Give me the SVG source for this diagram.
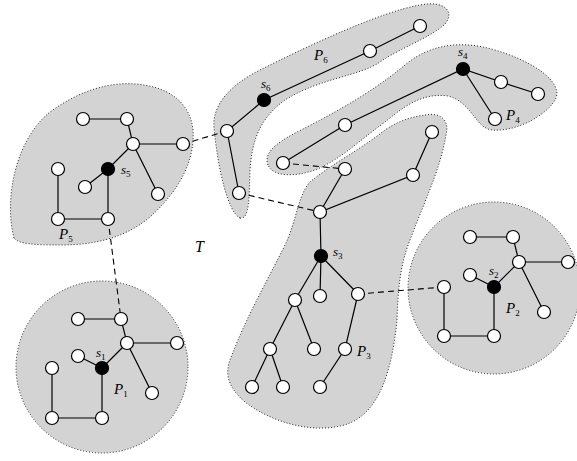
<svg xmlns="http://www.w3.org/2000/svg" width="577" height="461" viewBox="0 0 577 461">
<style>
.blob{fill:#d3d3d3;stroke:#222;stroke-width:1;stroke-dasharray:1 2}
.e{stroke:#000;stroke-width:1.2;fill:none}
.d{stroke:#000;stroke-width:1.1;fill:none;stroke-dasharray:6 4}
.v{fill:#fff;stroke:#000;stroke-width:1.2}
.s{fill:#000;stroke:#000;stroke-width:1.2}
text{font-family:"Liberation Serif","DejaVu Serif",serif;fill:#000}
.lab{font-style:italic;font-size:13px}
.big{font-style:italic;font-size:15px}
.sub{font-style:normal;font-size:9px}
</style>
<g id="regions">
<path id="P5-region" class="blob" d="M14,238 C4,200 15,140 50,112 C80,90 110,82 135,84 C165,86 190,100 193,130 C195,160 180,190 150,217 C125,238 95,245 60,245 C35,245 18,244 14,238 Z"/>
<circle id="P1-region" class="blob" cx="102" cy="367" r="86"/>
<circle id="P2-region" class="blob" cx="494" cy="288" r="86"/>
<path id="P6-region" class="blob" d="M240,218 C228,212 218,170 214,128 C212,105 230,85 260,70 C310,45 380,12 420,5 C445,0 455,12 445,24 C430,38 400,48 380,62 C360,76 320,78 285,100 C260,118 252,140 250,170 C249,195 250,220 240,218 Z"/>
<path id="P4-region" class="blob" d="M268,165 C262,150 285,138 305,128 C340,110 375,90 405,65 C425,48 455,38 495,50 C535,62 562,82 556,98 C550,112 520,132 492,130 C475,128 472,102 448,96 C420,92 400,110 385,122 C360,140 340,160 315,170 C295,177 273,177 268,165 Z"/>
<path id="P3-region" class="blob" d="M425,115 C440,112 450,120 446,135 C440,170 425,200 410,240 C400,265 398,290 397,320 C392,370 380,410 350,423 C320,435 275,425 245,402 C225,385 225,370 232,355 C245,320 265,285 285,245 C297,220 298,195 310,182 C330,165 360,150 385,130 C400,120 412,117 425,115 Z"/>
</g>
<g id="connectors">
<path class="e" d="M83,119 H127 L133,144 H183 M133,144 L108,169 M133,144 L158,194 M108,169 L85,187 M108,169 V219 H58 V169"/>
<path class="e" d="M78,319 H121 L127,343 H177 M127,343 L102,368 M127,343 L152,393 M102,368 L78,356 M102,368 V418 H52 V368"/>
<path class="e" d="M470,237 H513 L519,262 H568 M519,262 L494,287 M519,262 L544,312 M494,287 L470,275 M494,287 V336 H444 V287"/>
<path class="e" d="M420,26 L370,51 L264,100 L227,131 L239,193"/>
<path class="e" d="M283,163 L345,125 L463,69 L501,82 L538,94 M463,69 L495,119"/>
<path class="e" d="M345,169 L320,212 L413,175 L432,132 M320,212 L321,256 M321,256 L295,300 M321,256 L320,296 M321,256 L358,294 M295,300 L270,349 M295,300 L314,349 M270,349 L252,387 M270,349 L283,387 M358,294 L345,349 L320,387"/>
<path class="d" d="M108,219 L121,319"/>
<path class="d" d="M183,144 L227,131"/>
<path class="d" d="M239,193 L320,212"/>
<path class="d" d="M283,163 L345,169"/>
<path class="d" d="M358,294 L444,287"/>
</g>
<g id="P5">
<circle class="v" cx="83" cy="119" r="6.5"/><circle class="v" cx="127" cy="119" r="6.5"/><circle class="v" cx="133" cy="144" r="6.5"/><circle class="v" cx="183" cy="144" r="6.5"/><circle class="s" cx="108" cy="169" r="6.5"/><circle class="v" cx="85" cy="187" r="6.5"/><circle class="v" cx="158" cy="194" r="6.5"/><circle class="v" cx="58" cy="169" r="6.5"/><circle class="v" cx="58" cy="219" r="6.5"/><circle class="v" cx="108" cy="219" r="6.5"/>
<text class="lab" x="121" y="174">s<tspan class="sub" dy="2.5">5</tspan></text>
<text class="big" x="59" y="239">P<tspan class="sub" dy="3">5</tspan></text>
</g>
<g id="P1">
<circle class="v" cx="78" cy="319" r="6.5"/><circle class="v" cx="121" cy="319" r="6.5"/><circle class="v" cx="127" cy="343" r="6.5"/><circle class="v" cx="177" cy="343" r="6.5"/><circle class="v" cx="78" cy="356" r="6.5"/><circle class="s" cx="102" cy="368" r="6.5"/><circle class="v" cx="52" cy="368" r="6.5"/><circle class="v" cx="52" cy="418" r="6.5"/><circle class="v" cx="102" cy="418" r="6.5"/><circle class="v" cx="152" cy="393" r="6.5"/>
<text class="lab" x="96" y="357">s<tspan class="sub" dy="2.5">1</tspan></text>
<text class="big" x="114" y="394">P<tspan class="sub" dy="3">1</tspan></text>
</g>
<g id="P2">
<circle class="v" cx="470" cy="237" r="6.5"/><circle class="v" cx="513" cy="237" r="6.5"/><circle class="v" cx="519" cy="262" r="6.5"/><circle class="v" cx="568" cy="262" r="6.5"/><circle class="v" cx="470" cy="275" r="6.5"/><circle class="s" cx="494" cy="287" r="6.5"/><circle class="v" cx="444" cy="287" r="6.5"/><circle class="v" cx="444" cy="336" r="6.5"/><circle class="v" cx="494" cy="336" r="6.5"/><circle class="v" cx="544" cy="312" r="6.5"/>
<text class="lab" x="489" y="275">s<tspan class="sub" dy="2.5">2</tspan></text>
<text class="big" x="506" y="313">P<tspan class="sub" dy="3">2</tspan></text>
</g>
<g id="P6">
<circle class="v" cx="420" cy="26" r="6.5"/><circle class="v" cx="370" cy="51" r="6.5"/><circle class="s" cx="264" cy="100" r="6.5"/><circle class="v" cx="227" cy="131" r="6.5"/><circle class="v" cx="239" cy="193" r="6.5"/>
<text class="lab" x="261" y="88">s<tspan class="sub" dy="2.5">6</tspan></text>
<text class="big" x="314" y="60">P<tspan class="sub" dy="3">6</tspan></text>
</g>
<g id="P4">
<circle class="v" cx="283" cy="163" r="6.5"/><circle class="v" cx="345" cy="125" r="6.5"/><circle class="s" cx="463" cy="69" r="6.5"/><circle class="v" cx="501" cy="82" r="6.5"/><circle class="v" cx="538" cy="94" r="6.5"/><circle class="v" cx="495" cy="119" r="6.5"/>
<text class="lab" x="458" y="56">s<tspan class="sub" dy="2.5">4</tspan></text>
<text class="big" x="506" y="120">P<tspan class="sub" dy="3">4</tspan></text>
</g>
<g id="P3">
<circle class="v" cx="345" cy="169" r="6.5"/><circle class="v" cx="320" cy="212" r="6.5"/><circle class="v" cx="413" cy="175" r="6.5"/><circle class="v" cx="432" cy="132" r="6.5"/><circle class="s" cx="321" cy="256" r="6.5"/><circle class="v" cx="295" cy="300" r="6.5"/><circle class="v" cx="320" cy="296" r="6.5"/><circle class="v" cx="358" cy="294" r="6.5"/><circle class="v" cx="270" cy="349" r="6.5"/><circle class="v" cx="314" cy="349" r="6.5"/><circle class="v" cx="345" cy="349" r="6.5"/><circle class="v" cx="252" cy="387" r="6.5"/><circle class="v" cx="283" cy="387" r="6.5"/><circle class="v" cx="320" cy="387" r="6.5"/>
<text class="lab" x="333" y="256">s<tspan class="sub" dy="2.5">3</tspan></text>
<text class="big" x="357" y="356">P<tspan class="sub" dy="3">3</tspan></text>
</g>
<g id="T">
<text class="big" x="195" y="252" style="font-size:16px">T</text>
</g>
</svg>
